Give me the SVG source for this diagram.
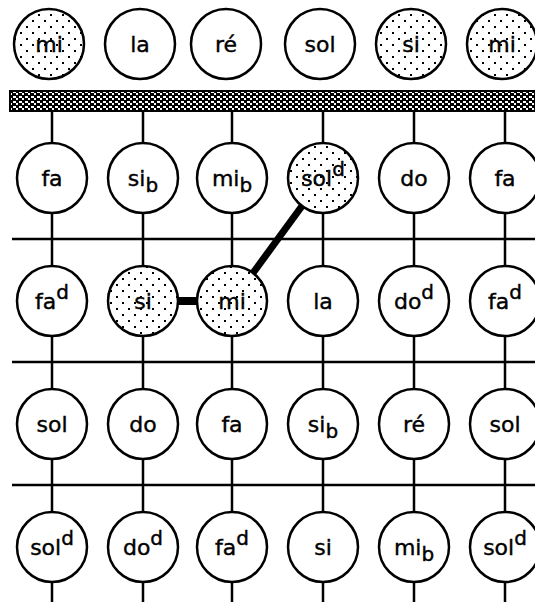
<svg xmlns="http://www.w3.org/2000/svg" width="535" height="602" viewBox="0 0 535 602">
<defs>
<pattern id="dots" width="12" height="12" patternUnits="userSpaceOnUse">
<rect width="12" height="12" fill="#fff"/>
<rect x="2" y="2" width="2" height="2" fill="#000"/>
<rect x="8" y="8" width="2" height="2" fill="#000"/>
</pattern>
<pattern id="hatch" width="6" height="5" patternUnits="userSpaceOnUse">
<rect width="6" height="5" fill="#000"/>
<rect x="1" y="1" width="3" height="2" fill="#fff"/>
<rect x="4" y="3" width="2" height="2" fill="#fff"/>
</pattern>
</defs>
<style>
.n{fill:#fff;stroke:#000;stroke-width:2.5}
.h{fill:url(#dots);stroke:#000;stroke-width:2.5}
.l{stroke:#000;stroke-width:2.5;fill:none}
.t{font-family:"DejaVu Sans",sans-serif;font-size:22px;fill:#000;text-anchor:middle;stroke:#000;stroke-width:0.4}
.s{font-size:20px}
</style>
<rect width="535" height="602" fill="#fff"/>
<g id="connectors">
<rect x="10" y="91" width="530" height="20" fill="url(#hatch)" stroke="#000" stroke-width="2"/>
<line class="l" x1="12" y1="239" x2="535" y2="239"/>
<line class="l" x1="12" y1="362" x2="535" y2="362"/>
<line class="l" x1="12" y1="485" x2="535" y2="485"/>
<line class="l" x1="52" y1="111" x2="52" y2="602"/>
<line class="l" x1="143" y1="111" x2="143" y2="602"/>
<line class="l" x1="232" y1="111" x2="232" y2="602"/>
<line class="l" x1="323" y1="111" x2="323" y2="602"/>
<line class="l" x1="414" y1="111" x2="414" y2="602"/>
<line class="l" x1="505" y1="111" x2="505" y2="602"/>
<line x1="170" y1="301" x2="205" y2="301" stroke="#000" stroke-width="8"/>
<line x1="253" y1="273" x2="302" y2="206" stroke="#000" stroke-width="7"/>
</g>
<g id="open-strings">
<g id="o1"><circle class="h" cx="49" cy="44" r="35"/><text class="t" x="49" y="52">mi</text></g>
<g id="o2"><circle class="n" cx="140" cy="44" r="35"/><text class="t" x="140" y="52">la</text></g>
<g id="o3"><circle class="n" cx="226" cy="44" r="35"/><text class="t" x="226" y="52">ré</text></g>
<g id="o4"><circle class="n" cx="320" cy="44" r="35"/><text class="t" x="320" y="52">sol</text></g>
<g id="o5"><circle class="h" cx="411" cy="44" r="35"/><text class="t" x="411" y="52">si</text></g>
<g id="o6"><circle class="h" cx="502" cy="44" r="35"/><text class="t" x="502" y="52">mi</text></g>
</g>
<g id="fret1">
<g id="f1a"><circle class="n" cx="52" cy="178" r="35"/><text class="t" x="52" y="186">fa</text></g>
<g id="f1b"><circle class="n" cx="143" cy="178" r="35"/><text class="t" x="143" y="186">si<tspan class="s" dy="6">b</tspan></text></g>
<g id="f1c"><circle class="n" cx="232" cy="178" r="35"/><text class="t" x="232" y="186">mi<tspan class="s" dy="6">b</tspan></text></g>
<g id="f1d"><circle class="h" cx="323" cy="178" r="35"/><text class="t" x="323" y="186">sol<tspan class="s" dy="-10">d</tspan></text></g>
<g id="f1e"><circle class="n" cx="414" cy="178" r="35"/><text class="t" x="414" y="186">do</text></g>
<g id="f1f"><circle class="n" cx="505" cy="178" r="35"/><text class="t" x="505" y="186">fa</text></g>
</g>
<g id="fret2">
<g id="f2a"><circle class="n" cx="52" cy="301" r="35"/><text class="t" x="52" y="309">fa<tspan class="s" dy="-10">d</tspan></text></g>
<g id="f2b"><circle class="h" cx="143" cy="301" r="35"/><text class="t" x="143" y="309">si</text></g>
<g id="f2c"><circle class="h" cx="232" cy="301" r="35"/><text class="t" x="232" y="309">mi</text></g>
<g id="f2d"><circle class="n" cx="323" cy="301" r="35"/><text class="t" x="323" y="309">la</text></g>
<g id="f2e"><circle class="n" cx="414" cy="301" r="35"/><text class="t" x="414" y="309">do<tspan class="s" dy="-10">d</tspan></text></g>
<g id="f2f"><circle class="n" cx="505" cy="301" r="35"/><text class="t" x="505" y="309">fa<tspan class="s" dy="-10">d</tspan></text></g>
</g>
<g id="fret3">
<g id="f3a"><circle class="n" cx="52" cy="424" r="35"/><text class="t" x="52" y="432">sol</text></g>
<g id="f3b"><circle class="n" cx="143" cy="424" r="35"/><text class="t" x="143" y="432">do</text></g>
<g id="f3c"><circle class="n" cx="232" cy="424" r="35"/><text class="t" x="232" y="432">fa</text></g>
<g id="f3d"><circle class="n" cx="323" cy="424" r="35"/><text class="t" x="323" y="432">si<tspan class="s" dy="6">b</tspan></text></g>
<g id="f3e"><circle class="n" cx="414" cy="424" r="35"/><text class="t" x="414" y="432">ré</text></g>
<g id="f3f"><circle class="n" cx="505" cy="424" r="35"/><text class="t" x="505" y="432">sol</text></g>
</g>
<g id="fret4">
<g id="f4a"><circle class="n" cx="52" cy="547" r="35"/><text class="t" x="52" y="555">sol<tspan class="s" dy="-10">d</tspan></text></g>
<g id="f4b"><circle class="n" cx="143" cy="547" r="35"/><text class="t" x="143" y="555">do<tspan class="s" dy="-10">d</tspan></text></g>
<g id="f4c"><circle class="n" cx="232" cy="547" r="35"/><text class="t" x="232" y="555">fa<tspan class="s" dy="-10">d</tspan></text></g>
<g id="f4d"><circle class="n" cx="323" cy="547" r="35"/><text class="t" x="323" y="555">si</text></g>
<g id="f4e"><circle class="n" cx="414" cy="547" r="35"/><text class="t" x="414" y="555">mi<tspan class="s" dy="6">b</tspan></text></g>
<g id="f4f"><circle class="n" cx="505" cy="547" r="35"/><text class="t" x="505" y="555">sol<tspan class="s" dy="-10">d</tspan></text></g>
</g>
</svg>
